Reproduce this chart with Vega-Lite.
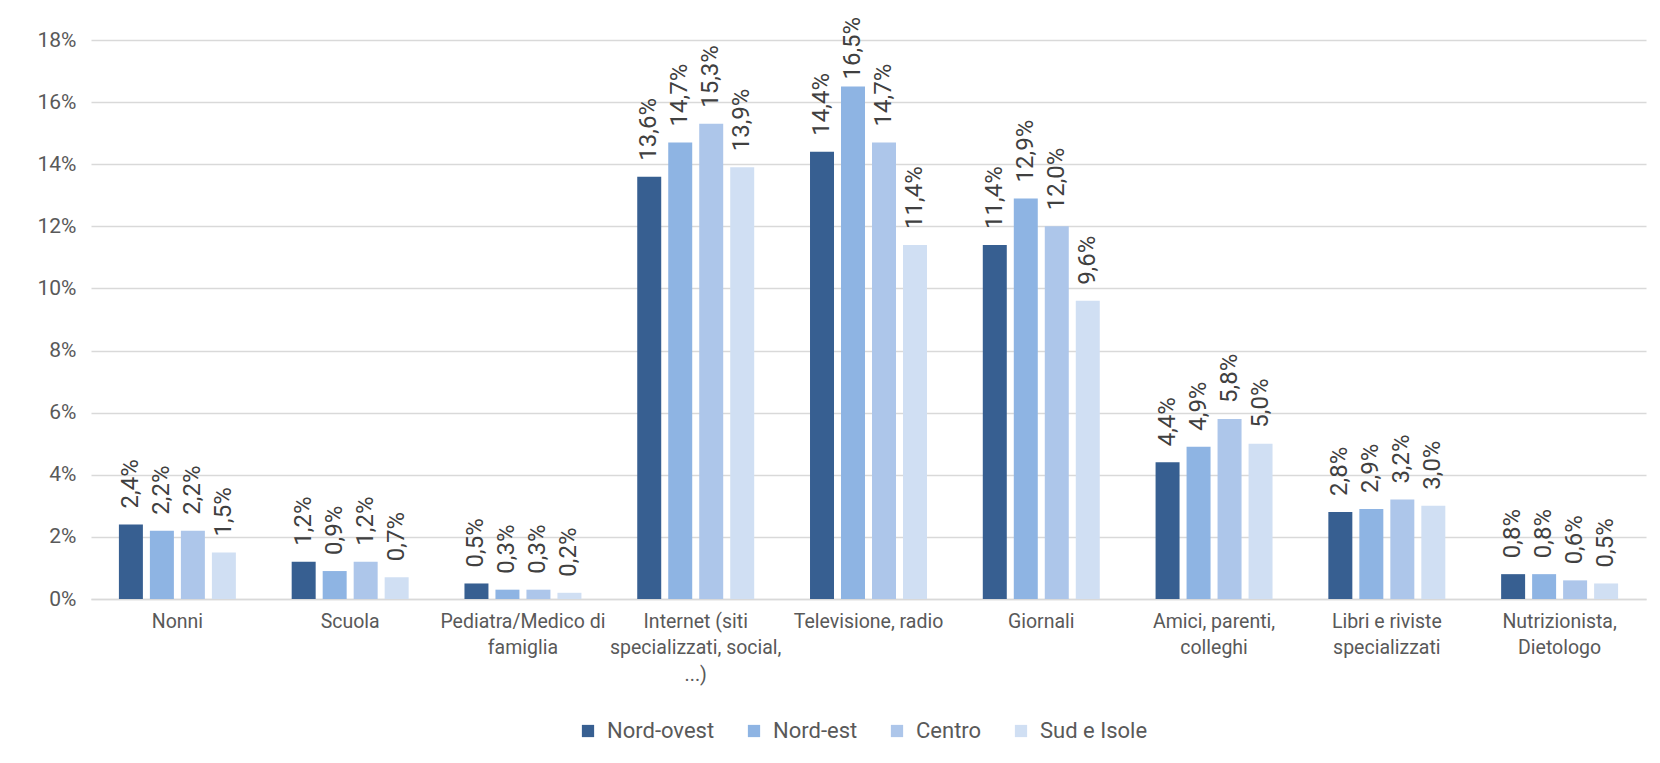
{
  "$schema": "https://vega.github.io/schema/vega-lite/v6.json",
  "width": 1555,
  "height": 559,
  "autosize": {"type": "none"},
  "padding": {"left": 91, "top": 40, "right": 14, "bottom": 164},
  "background": "white",
  "config": {
    "locale": {"number": {"decimal": ",", "thousands": ".", "grouping": [3], "currency": ["€", ""]}},
    "view": {"stroke": null},
    "font": "Roboto",
    "axis": {"labelFont": "Roboto", "labelColor": "#595959"},
    "legend": {"labelFont": "Roboto", "labelColor": "#595959"}
  },
  "data": {
    "values": [
      {"fonte": "Nonni", "area": "Nord-ovest", "valore": 0.024},
      {"fonte": "Nonni", "area": "Nord-est", "valore": 0.022},
      {"fonte": "Nonni", "area": "Centro", "valore": 0.022},
      {"fonte": "Nonni", "area": "Sud e Isole", "valore": 0.015},
      {"fonte": "Scuola", "area": "Nord-ovest", "valore": 0.012},
      {"fonte": "Scuola", "area": "Nord-est", "valore": 0.009},
      {"fonte": "Scuola", "area": "Centro", "valore": 0.012},
      {"fonte": "Scuola", "area": "Sud e Isole", "valore": 0.007},
      {"fonte": "Pediatra/Medico di|famiglia", "area": "Nord-ovest", "valore": 0.005},
      {"fonte": "Pediatra/Medico di|famiglia", "area": "Nord-est", "valore": 0.003},
      {"fonte": "Pediatra/Medico di|famiglia", "area": "Centro", "valore": 0.003},
      {"fonte": "Pediatra/Medico di|famiglia", "area": "Sud e Isole", "valore": 0.002},
      {"fonte": "Internet (siti|specializzati, social,|...)", "area": "Nord-ovest", "valore": 0.136},
      {"fonte": "Internet (siti|specializzati, social,|...)", "area": "Nord-est", "valore": 0.147},
      {"fonte": "Internet (siti|specializzati, social,|...)", "area": "Centro", "valore": 0.153},
      {"fonte": "Internet (siti|specializzati, social,|...)", "area": "Sud e Isole", "valore": 0.139},
      {"fonte": "Televisione, radio", "area": "Nord-ovest", "valore": 0.144},
      {"fonte": "Televisione, radio", "area": "Nord-est", "valore": 0.165},
      {"fonte": "Televisione, radio", "area": "Centro", "valore": 0.147},
      {"fonte": "Televisione, radio", "area": "Sud e Isole", "valore": 0.114},
      {"fonte": "Giornali", "area": "Nord-ovest", "valore": 0.114},
      {"fonte": "Giornali", "area": "Nord-est", "valore": 0.129},
      {"fonte": "Giornali", "area": "Centro", "valore": 0.120},
      {"fonte": "Giornali", "area": "Sud e Isole", "valore": 0.096},
      {"fonte": "Amici, parenti,|colleghi", "area": "Nord-ovest", "valore": 0.044},
      {"fonte": "Amici, parenti,|colleghi", "area": "Nord-est", "valore": 0.049},
      {"fonte": "Amici, parenti,|colleghi", "area": "Centro", "valore": 0.058},
      {"fonte": "Amici, parenti,|colleghi", "area": "Sud e Isole", "valore": 0.050},
      {"fonte": "Libri e riviste|specializzati", "area": "Nord-ovest", "valore": 0.028},
      {"fonte": "Libri e riviste|specializzati", "area": "Nord-est", "valore": 0.029},
      {"fonte": "Libri e riviste|specializzati", "area": "Centro", "valore": 0.032},
      {"fonte": "Libri e riviste|specializzati", "area": "Sud e Isole", "valore": 0.030},
      {"fonte": "Nutrizionista,|Dietologo", "area": "Nord-ovest", "valore": 0.008},
      {"fonte": "Nutrizionista,|Dietologo", "area": "Nord-est", "valore": 0.008},
      {"fonte": "Nutrizionista,|Dietologo", "area": "Centro", "valore": 0.006},
      {"fonte": "Nutrizionista,|Dietologo", "area": "Sud e Isole", "valore": 0.005}
    ]
  },
  "encoding": {
    "x": {
      "field": "fonte",
      "type": "nominal",
      "sort": null,
      "scale": {"paddingInner": 0.323, "paddingOuter": 0.1615},
      "axis": {
        "title": null,
        "labelAngle": 0,
        "labelExpr": "split(datum.label, '|')",
        "labelFontSize": 19.5,
        "labelLineHeight": 26.5,
        "labelBaseline": "top",
        "labelPadding": 13,
        "labelLimit": 400,
        "ticks": false,
        "domainColor": "#d9d9d9",
        "domainWidth": 1.5,
        "grid": false
      }
    },
    "xOffset": {
      "field": "area",
      "type": "nominal",
      "sort": ["Nord-ovest", "Nord-est", "Centro", "Sud e Isole"],
      "scale": {"paddingInner": 0.226, "paddingOuter": 0}
    },
    "y": {
      "field": "valore",
      "type": "quantitative",
      "scale": {"domain": [0, 0.18], "nice": false},
      "axis": {
        "title": null,
        "format": ".0%",
        "values": [0, 0.02, 0.04, 0.06, 0.08, 0.1, 0.12, 0.14, 0.16, 0.18],
        "labelFontSize": 21,
        "labelPadding": 15,
        "ticks": false,
        "domain": false,
        "gridColor": "#d9d9d9",
        "gridWidth": 1.5
      }
    }
  },
  "layer": [
    {
      "mark": {"type": "bar"},
      "encoding": {
        "color": {
          "field": "area",
          "type": "nominal",
          "sort": ["Nord-ovest", "Nord-est", "Centro", "Sud e Isole"],
          "scale": {
            "domain": ["Nord-ovest", "Nord-est", "Centro", "Sud e Isole"],
            "range": ["#375f91", "#8eb4e3", "#adc6ea", "#d0dff3"]
          },
          "legend": {
            "title": null,
            "orient": "none",
            "direction": "horizontal",
            "legendX": 486,
            "legendY": 680,
            "symbolType": "square",
            "symbolSize": 150,
            "symbolStrokeWidth": 0,
            "labelFontSize": 22,
            "labelOffset": 8,
            "columnPadding": 28
          }
        }
      }
    },
    {
      "transform": [{"filter": "datum.valore < 0.16"}],
      "mark": {
        "type": "text",
        "angle": -90,
        "align": "left",
        "baseline": "middle",
        "dx": 16,
        "fontSize": 24,
        "color": "#404040"
      },
      "encoding": {
        "text": {"field": "valore", "type": "quantitative", "format": ".1%"}
      }
    },
    {
      "transform": [{"filter": "datum.valore >= 0.16"}],
      "mark": {
        "type": "text",
        "angle": -90,
        "align": "left",
        "baseline": "middle",
        "dx": 7,
        "fontSize": 24,
        "color": "#404040"
      },
      "encoding": {
        "text": {"field": "valore", "type": "quantitative", "format": ".1%"}
      }
    }
  ]
}
